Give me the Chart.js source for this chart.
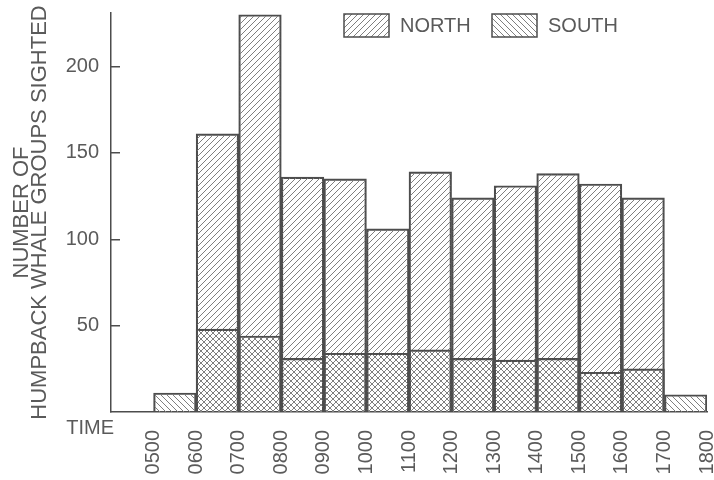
<!DOCTYPE html>
<html>
<head>
<meta charset="utf-8">
<script src="https://cdn.jsdelivr.net/npm/chart.js@4.4.0/dist/chart.umd.min.js"></script>
<style>
  html, body { margin: 0; padding: 0; background: #fff; }
  #wrap { width: 714px; height: 480px; }
</style>
</head>
<body>
<div id="wrap"><canvas id="whaleChart" width="714" height="480"></canvas></div>
<script>
// hourly bins, count of humpback groups sighted
var binStarts = [5, 6, 7, 8, 9, 10, 11, 12, 13, 14, 15, 16, 17];
var edgeLabels = ['0500', '0600', '0700', '0800', '0900', '1000', '1100', '1200', '1300', '1400', '1500', '1600', '1700', '1800'];
var northCounts = [null, 161, 230, 136, 135, 106, 139, 124, 131, 138, 132, 124, null];
var southCounts = [11, 48, 44, 31, 34, 34, 36, 31, 30, 31, 23, 25, 10];
var yTickValues = [50, 100, 150, 200];
var seriesNames = ['NORTH', 'SOUTH'];
var yTitle = ['NUMBER OF', 'HUMPBACK WHALE GROUPS SIGHTED'];
var xTitle = 'TIME';

var inkColor = '#4d4d4d';
var hatchColor = '#7f7f7f';
var textColor = '#5a5a5a';
var fontFamily = "'Liberation Sans', Arial, Helvetica, sans-serif";

function makeHatch(forward) {
    var size = 6;
    var c = document.createElement('canvas');
    c.width = size;
    c.height = size;
    var g = c.getContext('2d');
    g.strokeStyle = hatchColor;
    g.lineWidth = 1;
    g.beginPath();
    if (forward) {
        g.moveTo(0, size); g.lineTo(size, 0);
        g.moveTo(-1, 1); g.lineTo(1, -1);
        g.moveTo(size - 1, size + 1); g.lineTo(size + 1, size - 1);
    } else {
        g.moveTo(0, 0); g.lineTo(size, size);
        g.moveTo(-1, size - 1); g.lineTo(1, size + 1);
        g.moveTo(size - 1, -1); g.lineTo(size + 1, 1);
    }
    g.stroke();
    return document.getElementById('whaleChart').getContext('2d').createPattern(c, 'repeat');
}

var northPattern = makeHatch(true);
var southPattern = makeHatch(false);

function toPoints(values) {
    return binStarts.map(function(b, i) {
        return { x: b + 0.5, y: values[i] };
    });
}

// legend + TIME label drawn on the canvas, like the scanned figure
var extrasPlugin = {
    id: 'extras',
    afterDraw: function(chart) {
        var ctx = chart.ctx;
        var items = [
            { text: seriesNames[0], fill: northPattern, x: 344 },
            { text: seriesNames[1], fill: southPattern, x: 492 }
        ];
        ctx.save();
        items.forEach(function(it) {
            ctx.fillStyle = '#fff';
            ctx.fillRect(it.x, 14, 45, 23);
            ctx.fillStyle = it.fill;
            ctx.fillRect(it.x, 14, 45, 23);
            ctx.strokeStyle = inkColor;
            ctx.lineWidth = 1.5;
            ctx.strokeRect(it.x, 14, 45, 23);
            ctx.fillStyle = textColor;
            ctx.font = '20px ' + fontFamily;
            ctx.textAlign = 'left';
            ctx.textBaseline = 'middle';
            ctx.fillText(it.text, it.x + 56, 26);
        });
        ctx.textAlign = 'right';
        ctx.fillText(xTitle, 114, 428);
        ctx.restore();
    }
};

var chart = new Chart(document.getElementById('whaleChart'), {
    type: 'bar',
    data: {
        datasets: [{
            label: seriesNames[0],
            data: toPoints(northCounts),
            backgroundColor: northPattern,
            borderColor: inkColor,
            borderWidth: 1.5,
            borderSkipped: 'bottom',
            barPercentage: 1,
            categoryPercentage: 1,
            grouped: false,
            order: 2
        }, {
            label: seriesNames[1],
            data: toPoints(southCounts),
            backgroundColor: southPattern,
            borderColor: inkColor,
            borderWidth: 1.5,
            borderSkipped: 'bottom',
            barPercentage: 1,
            categoryPercentage: 1,
            grouped: false,
            order: 1
        }]
    },
    options: {
        responsive: false,
        animation: false,
        layout: { padding: { left: 0, right: 7, top: 13, bottom: 0 } },
        plugins: {
            legend: { display: false },
            tooltip: { enabled: false }
        },
        scales: {
            x: {
                type: 'linear',
                min: 4,
                max: 18,
                offset: false,
                grid: { display: false, drawTicks: false, tickLength: 0 },
                border: { display: true, color: inkColor, width: 1.5 },
                afterBuildTicks: function(s) {
                    s.ticks = edgeLabels.map(function(l, i) { return { value: i + 5 }; });
                },
                afterFit: function(s) {
                    s.height = 68;
                    s.paddingLeft = 0;
                    s.paddingRight = 0;
                },
                ticks: {
                    autoSkip: false,
                    minRotation: 90,
                    maxRotation: 90,
                    padding: 18,
                    color: textColor,
                    font: { family: fontFamily, size: 20 },
                    callback: function(v) { return edgeLabels[v - 5]; }
                }
            },
            y: {
                min: 0,
                max: 231,
                grid: {
                    drawOnChartArea: false,
                    drawTicks: true,
                    tickLength: -9,
                    color: inkColor,
                    lineWidth: 1.5
                },
                border: { display: true, color: inkColor, width: 1.5 },
                afterBuildTicks: function(s) {
                    s.ticks = yTickValues.map(function(v) { return { value: v }; });
                },
                afterFit: function(s) {
                    s.width = 111;
                    s.paddingTop = 0;
                    s.paddingBottom = 0;
                },
                ticks: {
                    padding: 21,
                    color: textColor,
                    font: { family: fontFamily, size: 20 }
                },
                title: {
                    display: true,
                    text: yTitle,
                    color: textColor,
                    padding: { top: 13, bottom: 0 },
                    font: { family: fontFamily, size: 22, lineHeight: '18px' }
                }
            }
        }
    },
    plugins: [extrasPlugin]
});
</script>
</body>
</html>
